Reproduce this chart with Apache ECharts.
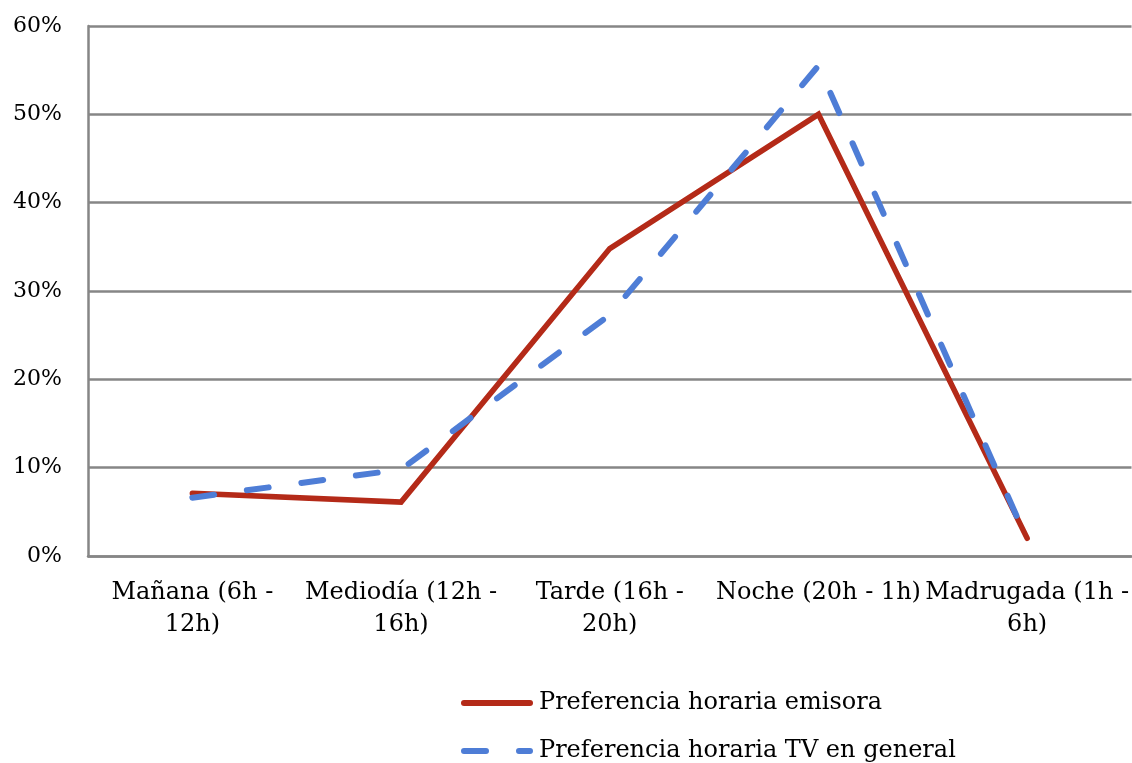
<!DOCTYPE html>
<html>
<head>
<meta charset="utf-8">
<script src="https://cdn.jsdelivr.net/npm/echarts@6/dist/echarts.min.js"></script>
<style>
html,body{margin:0;padding:0;background:#fff;}
#chart{width:1132px;height:763px;}
</style>
</head>
<body>
<div id="chart"></div>
<script>
var categories = ['Mañana (6h -\n12h)', 'Mediodía (12h -\n16h)', 'Tarde (16h -\n20h)', 'Noche (20h - 1h)', 'Madrugada (1h -\n6h)'];
var emisora = [7.1, 6.1, 34.8, 50.0, 2.0];
var tvGeneral = [6.6, 9.8, 27.3, 55.5, 1.8];
var seriesNames = ['Preferencia horaria emisora', 'Preferencia horaria TV en general'];

var FONT = 'DejaVu Serif';
var chart = echarts.init(document.getElementById('chart'));
chart.setOption({
  animation: false,
  backgroundColor: '#fff',
  grid: { left: 88, right: -1, top: 26, bottom: 207 },
  xAxis: {
    type: 'category',
    data: categories,
    boundaryGap: true,
    axisLine: { show: true, lineStyle: { color: '#868686', width: 2.5 } },
    axisTick: { show: false },
    axisLabel: { color: '#000', fontFamily: FONT, fontSize: 24, lineHeight: 32, margin: 21, interval: 0 },
    splitLine: { show: false }
  },
  yAxis: {
    type: 'value',
    min: 0, max: 60, interval: 10,
    axisLine: { show: true, lineStyle: { color: '#868686', width: 2.5 } },
    axisTick: { show: false },
    axisLabel: { color: '#000', fontFamily: FONT, fontSize: 22, margin: 26, formatter: '{value}%' },
    splitLine: { show: true, lineStyle: { color: '#868686', width: 2.5 } }
  },
  legend: {
    orient: 'vertical',
    left: 461,
    top: 691,
    height: 120,
    padding: 0,
    itemWidth: 66,
    itemHeight: 14,
    itemGap: 24,
    itemStyle: { opacity: 0, borderWidth: 0 },
    lineStyle: { width: 6, type: 'inherit', cap: 'round' },
    textStyle: { color: '#000', fontFamily: FONT, fontSize: 24, padding: [0,0,0,4] },
    data: seriesNames
  },
  series: [
    {
      name: seriesNames[0],
      type: 'line',
      data: emisora,
      symbol: 'none',
      lineStyle: { color: '#B42A18', width: 5.5, cap: 'round', join: 'miter' },
      itemStyle: { color: '#B42A18' }
    },
    {
      name: seriesNames[1],
      type: 'line',
      data: tvGeneral,
      symbol: 'none',
      lineStyle: { color: '#4E7DD6', width: 6, type: [22, 33], cap: 'round', join: 'round' },
      itemStyle: { color: '#4E7DD6' }
    }
  ]
});
</script>
</body>
</html>
